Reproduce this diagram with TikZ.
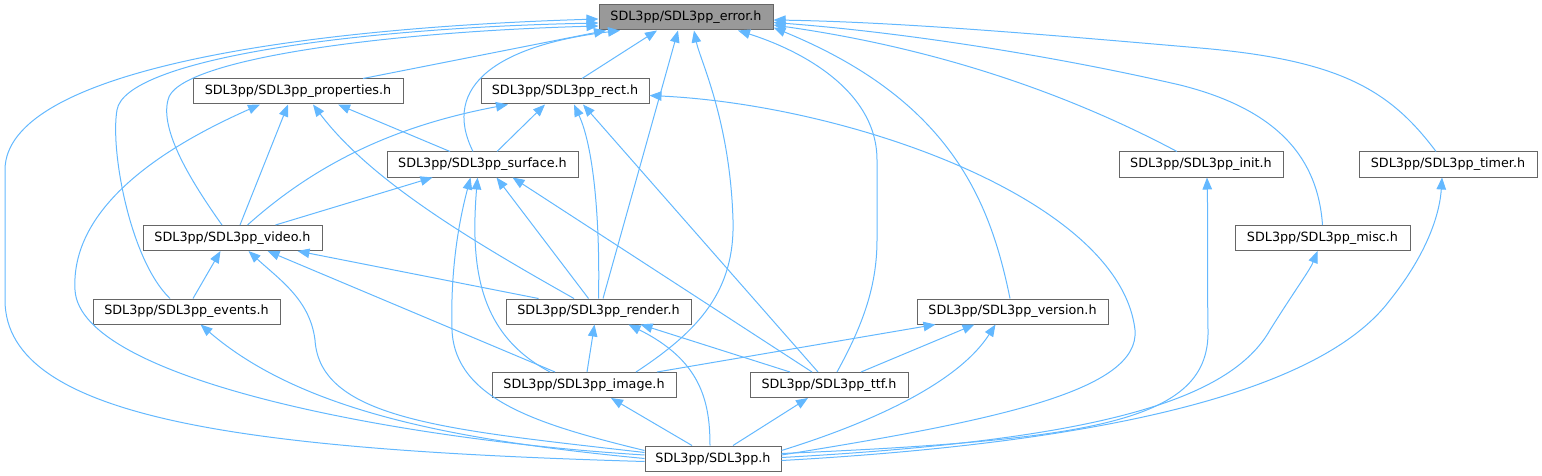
\documentclass[tikz,border=0pt]{standalone}
\usepackage{fontspec}
\setmainfont{DejaVu Sans}
\usetikzlibrary{arrows.meta,calc}
\definecolor{edgec}{HTML}{63B8FF}
\definecolor{boxc}{HTML}{666666}
\definecolor{errfill}{HTML}{999999}
\begin{document}
\begin{tikzpicture}[x=1pt,y=-1pt,
  box/.style={draw=boxc, line width=1pt, fill=white, minimum height=25pt, inner sep=0pt, font=\fontsize{12.75}{15}\selectfont},
  dep/.style={draw=edgec, line width=1pt, -{Triangle[length=12pt,width=9.5pt,fill=edgec]}}]
\useasboundingbox (0,0) rectangle (1542,476);

\node[box, minimum width=174pt, fill=errfill] (error) at (686,17.5) {SDL3pp/SDL3pp\_error.h};
\node[box, minimum width=210pt] (properties) at (298,91.5) {SDL3pp/SDL3pp\_properties.h};
\node[box, minimum width=168pt] (rect) at (565,91.5) {SDL3pp/SDL3pp\_rect.h};
\node[box, minimum width=191pt] (surface) at (482.5,164.5) {SDL3pp/SDL3pp\_surface.h};
\node[box, minimum width=164pt] (init) at (1201,164.5) {SDL3pp/SDL3pp\_init.h};
\node[box, minimum width=178pt] (timer) at (1448,164.5) {SDL3pp/SDL3pp\_timer.h};
\node[box, minimum width=179pt] (video) at (232.5,238) {SDL3pp/SDL3pp\_video.h};
\node[box, minimum width=175pt] (misc) at (1322.5,238) {SDL3pp/SDL3pp\_misc.h};
\node[box, minimum width=187pt] (events) at (186.5,311.5) {SDL3pp/SDL3pp\_events.h};
\node[box, minimum width=185pt] (render) at (598.5,311.5) {SDL3pp/SDL3pp\_render.h};
\node[box, minimum width=191pt] (version) at (1012.5,311.5) {SDL3pp/SDL3pp\_version.h};
\node[box, minimum width=184pt] (image) at (584,385) {SDL3pp/SDL3pp\_image.h};
\node[box, minimum width=158pt] (ttf) at (829,385) {SDL3pp/SDL3pp\_ttf.h};
\node[box, minimum width=136pt] (sdl) at (713,458.5) {SDL3pp/SDL3pp.h};

% to error
\draw[dep] ($(sdl.west)+(0,3)$) .. controls (250,450) and (5,420) .. (5,300) -- (5,170) .. controls (5,70) and (300,28) .. ($(error.west)+(0,1.5)$);
\draw[dep] ($(events.north)+(-16.5,0)$) .. controls (130,260) and (110,150) .. (117,110) .. controls (125,60) and (350,28) .. ($(error.west)+(0,5.5)$);
\draw[dep] ($(video.north)+(-10.5,0)$) .. controls (190,180) and (160,130) .. (168,100) .. controls (175,60) and (380,32) .. ($(error.west)+(0,8.5)$);
\draw[dep] ($(properties.north)+(65,0)$) -- ($(error.south)+(-80,0)$);
\draw[dep] ($(surface.north)+(-9.5,0)$) .. controls (440,85) and (500,45) .. ($(error.south)+(-66,0)$);
\draw[dep] ($(rect.north)+(17,0)$) -- ($(error.south)+(-29,0)$);
\draw[dep] ($(render.north)+(4.5,0)$) -- ($(error.south)+(-8,0)$);
\draw[dep] ($(image.north)+(52,0)$) .. controls (700,330) and (735,290) .. (733,220) .. controls (730,120) and (700,60) .. ($(error.south)+(8,0)$);
\draw[dep] ($(ttf.north)+(8,0)$) .. controls (860,330) and (877,290) .. (877,240) -- (877,160) .. controls (877,90) and (800,50) .. ($(error.south)+(52,0)$);
\draw[dep] ($(version.north)+(-2.5,0)$) .. controls (990,200) and (950,100) .. ($(error.east)+(0,10)$);
\draw[dep] ($(init.north)+(-24,0)$) .. controls (1080,100) and (950,50) .. ($(error.east)+(0,7.5)$);
\draw[dep] (misc.north) .. controls (1318,160) and (1280,110) .. (1180,85) .. controls (1050,55) and (900,32) .. ($(error.east)+(0,5)$);
\draw[dep] ($(timer.north)+(-12,0)$) .. controls (1390,90) and (1340,60) .. (1200,48) .. controls (1050,35) and (900,22) .. ($(error.east)+(0,2.5)$);

% to properties
\draw[dep] ($(video.north)+(7.5,0)$) -- ($(properties.south)+(-10,0)$);
\draw[dep] ($(sdl.west)+(0,-3.5)$) .. controls (400,440) and (80,380) .. (75,290) .. controls (70,200) and (180,140) .. ($(properties.south)+(-38,0)$);
\draw[dep] ($(render.north)+(-24.5,0)$) .. controls (470,240) and (370,180) .. ($(properties.south)+(15,0)$);
\draw[dep] ($(surface.north)+(-32.5,0)$) -- ($(properties.south)+(40,0)$);

% to rect
\draw[dep] ($(surface.north)+(14.5,0)$) -- ($(rect.south)+(-20,0)$);
\draw[dep] ($(video.north)+(15,0)$) .. controls (320,160) and (400,125) .. ($(rect.south)+(-57,0)$);
\draw[dep] (render.north) .. controls (600,230) and (595,150) .. ($(rect.south)+(9,0)$);
\draw[dep] ($(ttf.north)+(-11,0)$) -- ($(rect.south)+(18,0)$);
\draw[dep] ($(sdl.east)+(0,-3.5)$) .. controls (1000,420) and (1140,390) .. (1135,330) .. controls (1120,200) and (850,105) .. ($(rect.east)+(0,4)$);

% to surface
\draw[dep] ($(video.north)+(43,0)$) -- ($(surface.south)+(-50,0)$);
\draw[dep] ($(render.north)+(-10,0)$) -- ($(surface.south)+(14,0)$);
\draw[dep] ($(image.north)+(-34,0)$) .. controls (480,335) and (470,270) .. ($(surface.south)+(-5,0)$);
\draw[dep] ($(sdl.west)+(0,-8)$) .. controls (540,425) and (455,400) .. (452,330) .. controls (450,260) and (462,210) .. ($(surface.south)+(-12,0)$);
\draw[dep] ($(ttf.north)+(-17,0)$) -- ($(surface.south)+(30,0)$);

% to video
\draw[dep] ($(events.north)+(6.5,0)$) -- ($(video.south)+(-12,0)$);
\draw[dep] ($(sdl.west)+(0,-6)$) .. controls (450,430) and (320,420) .. (315,340) .. controls (310,300) and (280,280) .. ($(video.south)+(16,0)$);
\draw[dep] ($(image.north)+(-29,0)$) -- ($(video.south)+(35,0)$);
\draw[dep] ($(render.north)+(-60,0)$) -- ($(video.south)+(65,0)$);

% to events
\draw[dep] (sdl.west) .. controls (450,440) and (300,410) .. ($(events.south)+(14,0)$);

% to render
\draw[dep] ($(image.north)+(3,0)$) -- ($(render.south)+(-4,0)$);
\draw[dep] ($(ttf.north)+(-39,0)$) -- ($(render.south)+(42,0)$);
\draw[dep] ($(sdl.north)+(-3,0)$) .. controls (710,400) and (700,360) .. ($(render.south)+(30,0)$);

% to version
\draw[dep] ($(image.north)+(73,0)$) -- ($(version.south)+(-77,0)$);
\draw[dep] ($(ttf.north)+(32,0)$) -- ($(version.south)+(-38,0)$);
\draw[dep] ($(sdl.east)+(0,-8)$) .. controls (880,420) and (960,380) .. ($(version.south)+(-17,0)$);

% to image, ttf
\draw[dep] ($(sdl.north)+(-21,0)$) -- ($(image.south)+(27,0)$);
\draw[dep] ($(sdl.north)+(20,0)$) -- ($(ttf.south)+(-21,0)$);

% to init, misc, timer
\draw[dep] ($(sdl.east)+(0,-5)$) .. controls (1100,440) and (1210,420) .. (1208,330) .. controls (1207,260) and (1208,220) .. ($(init.south)+(6,0)$);
\draw[dep] ($(sdl.east)+(0,-1)$) .. controls (1100,440) and (1230,400) .. (1270,330) .. controls (1295,290) and (1310,270) .. ($(misc.south)+(-5,0)$);
\draw[dep] ($(sdl.east)+(0,2)$) .. controls (1150,440) and (1330,380) .. (1390,300) .. controls (1430,250) and (1440,210) .. ($(timer.south)+(-6,0)$);
\end{tikzpicture}
\end{document}
